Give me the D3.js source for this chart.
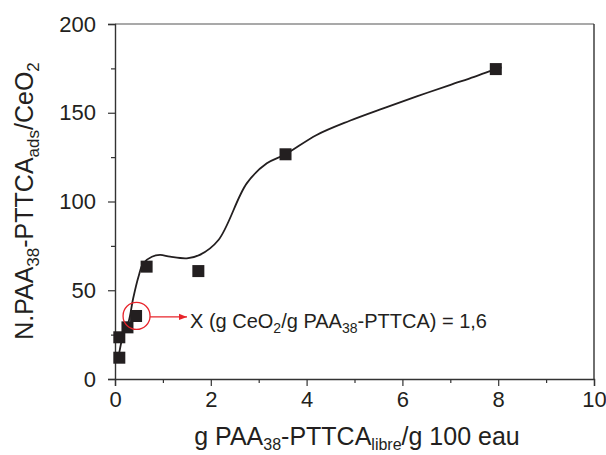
<!DOCTYPE html>
<html><head><meta charset="utf-8">
<script src="https://cdn.jsdelivr.net/npm/d3@7"></script>
<style>
html,body{margin:0;padding:0;background:#fff;}
text{font-family:"Liberation Sans",Arial,sans-serif;fill:#231f20;}
</style></head>
<body><svg id="c" width="606" height="455"></svg>
<script>
// measured points
const pointX = [0.09, 0.09, 0.26, 0.44, 0.66, 1.74, 3.56, 7.95];
const pointY = [12.0, 23.5, 29.1, 35.5, 63.3, 60.8, 126.6, 174.6];
// fitted curve
const curveX = [0.09, 0.15, 0.21, 0.28, 0.38, 0.49, 0.59, 0.77, 0.94, 1.15, 1.5, 1.77, 2.16, 2.75, 3.17, 3.56, 4.21, 4.9, 5.6, 6.3, 6.99, 7.5, 7.95, 8.07];
const curveY = [15, 23, 28.5, 32, 45.5, 57.6, 65.2, 68.9, 69.9, 68.9, 68.0, 69.9, 78.3, 110.2, 121.5, 126.6, 137.5, 145.5, 152.5, 159.2, 165.6, 170.2, 174.6, 175.6];
const xTicks = [0, 2, 4, 6, 8, 10];
const xMinor = [1, 3, 5, 7, 9];
const yTicks = [0, 50, 100, 150, 200];
const yMinor = [25, 75, 125, 175];
const annotX = 0.45, annotY = 35;

const svg = d3.select("#c");
const L = 115, R = 594, T = 24, B = 379;
const x = d3.scaleLinear().domain([0, 10]).range([L, R]);
const y = d3.scaleLinear().domain([0, 200]).range([B, T]);
const axisCol = "#333";

// frame top/right
svg.append("line").attr("x1", L).attr("x2", R).attr("y1", T).attr("y2", T).attr("stroke", "#555").attr("stroke-width", 1.2);
svg.append("line").attr("x1", R).attr("x2", R).attr("y1", T).attr("y2", B).attr("stroke", axisCol).attr("stroke-width", 1.4);

// bottom axis
const gx = svg.append("g").attr("transform", `translate(0,${B})`)
  .call(d3.axisBottom(x).tickValues(xTicks).tickSize(7).tickPadding(5).tickFormat(d3.format("d")));
const gxm = svg.append("g").attr("transform", `translate(0,${B})`)
  .call(d3.axisBottom(x).tickValues(xMinor).tickSize(4).tickFormat(""));
// left axis
const gy = svg.append("g").attr("transform", `translate(${L},0)`)
  .call(d3.axisLeft(y).tickValues(yTicks).tickSize(7).tickPadding(12).tickFormat(d3.format("d")));
const gym = svg.append("g").attr("transform", `translate(${L},0)`)
  .call(d3.axisLeft(y).tickValues(yMinor).tickSize(4).tickFormat(""));
[gx, gxm, gy, gym].forEach(g => {
  g.selectAll("path").attr("stroke", axisCol).attr("stroke-width", 1.4);
  g.selectAll("line").attr("stroke", axisCol).attr("stroke-width", 1.2);
  g.selectAll("text").style("font-family", '"Liberation Sans",Arial,sans-serif').style("font-size", "22px").attr("fill", "#231f20");
});
gxm.select("path").remove(); gym.select("path").remove();

// curve
const curveData = curveX.map((v, i) => [v, curveY[i]]);
svg.append("path").datum(curveData)
  .attr("d", d3.line().x(d => x(d[0])).y(d => y(d[1])).curve(d3.curveCatmullRom.alpha(0.5)))
  .attr("fill", "none").attr("stroke", "#231f20").attr("stroke-width", 1.8);

// points
const s = 12;
svg.selectAll("rect.pt").data(pointX.map((v, i) => [v, pointY[i]])).enter().append("rect")
  .attr("class", "pt").attr("x", d => x(d[0]) - s / 2).attr("y", d => y(d[1]) - s / 2)
  .attr("width", s).attr("height", s).attr("fill", "#231f20");

// annotation
const red = "#e8242b";
const cx = x(annotX), cy = y(annotY) - 1;
svg.append("circle").attr("cx", cx).attr("cy", cy).attr("r", 13.5).attr("fill", "none").attr("stroke", red).attr("stroke-width", 1.3);
svg.append("defs").append("marker").attr("id", "ah").attr("viewBox", "0 0 10 10").attr("refX", 10).attr("refY", 5)
  .attr("markerWidth", 8).attr("markerHeight", 8).attr("markerUnits", "userSpaceOnUse").attr("orient", "auto")
  .append("path").attr("d", "M0,1 L10,5 L0,9 Z").attr("fill", red);
svg.append("line").attr("x1", cx + 13.5).attr("x2", 187).attr("y1", cy + 1).attr("y2", cy + 1)
  .attr("stroke", red).attr("stroke-width", 1.3).attr("marker-end", "url(#ah)");

const at = svg.append("text").attr("x", 190).attr("y", 328).style("font-size", "20px");
at.append("tspan").text("X (g CeO");
at.append("tspan").attr("dy", 5).style("font-size", "14px").text("2");
at.append("tspan").attr("dy", -5).text("/g PAA");
at.append("tspan").attr("dy", 5).style("font-size", "14px").text("38");
at.append("tspan").attr("dy", -5).text("-PTTCA) = 1,6");

// x title
const xt = svg.append("text").attr("x", 357).attr("y", 445).attr("text-anchor", "middle").style("font-size", "25px");
xt.append("tspan").text("g PAA");
xt.append("tspan").attr("dy", 5).style("font-size", "16px").text("38");
xt.append("tspan").attr("dy", -5).text("-PTTCA");
xt.append("tspan").attr("dy", 5).style("font-size", "16px").text("libre");
xt.append("tspan").attr("dy", -5).text("/g 100 eau");

// y title
const yt = svg.append("text").attr("transform", `translate(33,201) rotate(-90)`).attr("text-anchor", "middle").style("font-size", "25px");
yt.append("tspan").text("N.PAA");
yt.append("tspan").attr("dy", 6).style("font-size", "17px").text("38");
yt.append("tspan").attr("dy", -6).text("-PTTCA");
yt.append("tspan").attr("dy", 6).style("font-size", "17px").text("ads");
yt.append("tspan").attr("dy", -6).text("/CeO");
yt.append("tspan").attr("dy", 6).style("font-size", "17px").text("2");
</script></body></html>
